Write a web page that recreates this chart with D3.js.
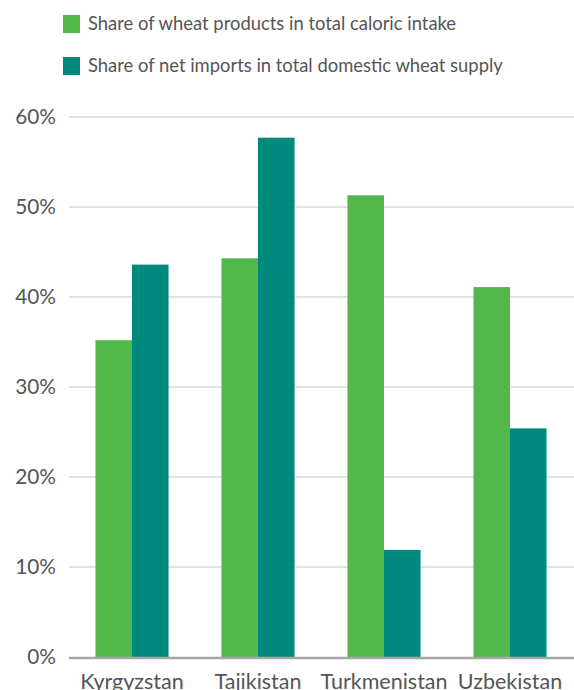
<!DOCTYPE html>
<html>
<head>
<meta charset="utf-8">
<script src="https://cdn.jsdelivr.net/npm/d3@7"></script>
<style>
    body { margin: 0; background: #fff; }
    svg { display: block; font-family: Lato, "Open Sans", sans-serif; }
</style>
</head>
<body>
<svg id="chart" width="574" height="690"></svg>
<script>
const countries = ["Kyrgyzstan", "Tajikistan", "Turkmenistan", "Uzbekistan"];
const seriesNames = [
    "Share of wheat products in total caloric intake",
    "Share of net imports in total domestic wheat supply"
];
const caloricShare = [35.2, 44.3, 51.3, 41.1];
const importShare = [43.6, 57.7, 11.9, 25.4];
const yTicks = [0, 10, 20, 30, 40, 50, 60];
const colors = ["#52b84b", "#008a7d"];

const svg = d3.select("#chart"),
    width = 574,
    margin = { top: 117, right: 1, bottom: 33, left: 69 },
    height = 690;

const rows = countries.map((c, i) => ({ country: c, values: [caloricShare[i], importShare[i]] }));

const x = d3.scaleBand()
    .domain(countries)
    .range([margin.left, width - margin.right])
    .paddingInner(0.42)
    .paddingOuter(0.21);

const x1 = d3.scaleBand()
    .domain([0, 1])
    .range([0, x.bandwidth()]);

const y = d3.scaleLinear()
    .domain([0, 60])
    .range([height - margin.bottom, margin.top]);

// gridlines
svg.append("g")
    .selectAll("line")
    .data(yTicks.filter(t => t > 0))
    .join("line")
    .attr("x1", margin.left)
    .attr("x2", width)
    .attr("y1", d => y(d))
    .attr("y2", d => y(d))
    .attr("stroke", "#d9d9d9")
    .attr("stroke-width", 1.5);

// y labels
svg.append("g")
    .selectAll("text")
    .data(yTicks)
    .join("text")
    .attr("x", 56)
    .attr("y", d => y(d))
    .attr("dy", "0.35em")
    .attr("text-anchor", "end")
    .attr("font-size", 20.8)
    .attr("fill", "#555")
    .text(d => d + "%");

// bars
svg.append("g")
    .selectAll("g")
    .data(rows)
    .join("g")
    .attr("transform", d => `translate(${x(d.country)},0)`)
    .selectAll("rect")
    .data(d => d.values.map((v, k) => ({ k, v })))
    .join("rect")
    .attr("x", d => x1(d.k))
    .attr("width", x1.bandwidth())
    .attr("y", d => y(d.v))
    .attr("height", d => y(0) - y(d.v))
    .attr("fill", d => colors[d.k]);

// baseline
svg.append("line")
    .attr("x1", margin.left)
    .attr("x2", width)
    .attr("y1", y(0) + 1)
    .attr("y2", y(0) + 1)
    .attr("stroke", "#a6a6a6")
    .attr("stroke-width", 2.5);

// category labels
svg.append("g")
    .selectAll("text")
    .data(countries)
    .join("text")
    .attr("x", d => x(d) + x.bandwidth() / 2)
    .attr("y", 689)
    .attr("text-anchor", "middle")
    .attr("font-size", 21.5)
    .attr("fill", "#555")
    .text(d => d);

// legend
const legend = svg.append("g")
    .selectAll("g")
    .data(seriesNames)
    .join("g")
    .attr("transform", (d, i) => `translate(63,${15 + i * 42})`);

legend.append("rect")
    .attr("width", 17)
    .attr("height", 18)
    .attr("fill", (d, i) => colors[i]);

legend.append("text")
    .attr("x", 25)
    .attr("y", 9)
    .attr("dy", "0.35em")
    .attr("font-size", 18.4)
    .attr("fill", "#555")
    .text(d => d);
</script>
</body>
</html>
